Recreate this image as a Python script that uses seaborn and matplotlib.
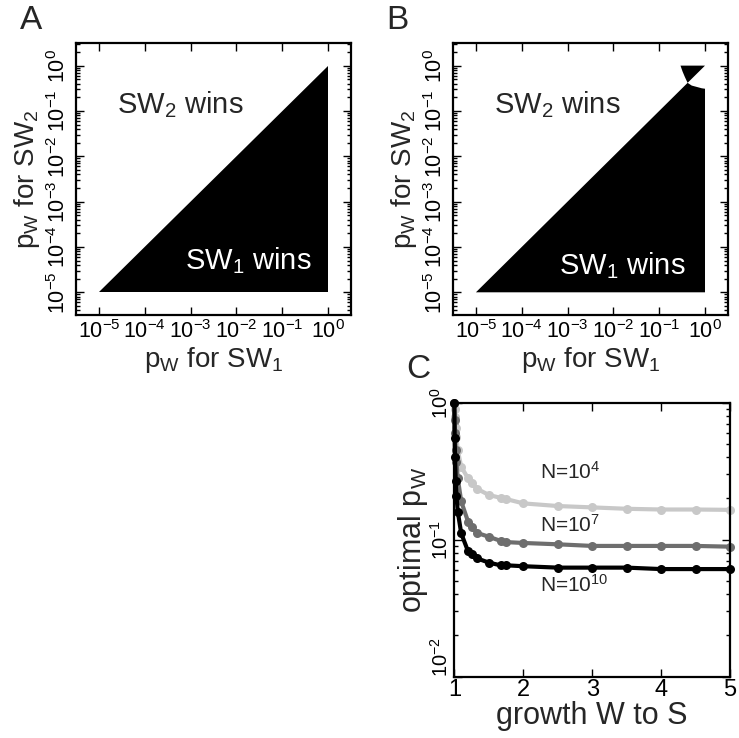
import numpy as np
import pandas as pd
import matplotlib
matplotlib.use("Agg")
import matplotlib.pyplot as plt
import seaborn as sns
from matplotlib.ticker import LogLocator, NullFormatter, FixedLocator

# ── data ──────────────────────────────────────────────────────
# panel A/B: region where SW1 wins (log10 coordinates of region boundaries)
tri_x = [-5, 0, 0]
tri_y = [-5, -5, 0]

# panel B: lower region with notch cut out near the top-right corner
regionB_x = [-5, 0, 0, -0.07, -0.18, -0.29, -0.38]
regionB_y = [-5, -5, -0.51, -0.50, -0.47, -0.44, -0.38]
# panel B: small bow-tie part above the diagonal
bowtie_x = [-0.38, 0, -0.535, -0.49, -0.44]
bowtie_y = [-0.38, 0, 0, -0.13, -0.25]

# panel C: optimal pW vs growth ratio W to S
growth = [1.0, 1.005, 1.01, 1.02, 1.03, 1.05, 1.1, 1.2, 1.25, 1.33,
          1.5, 1.67, 1.75, 2.0, 2.5, 3.0, 3.5, 4.0, 4.5, 5.0]
pw_n4 = [1.0, 0.9, 0.78, 0.65, 0.56, 0.45, 0.34, 0.28, 0.26, 0.235,
         0.212, 0.202, 0.198, 0.184, 0.176, 0.172, 0.168, 0.166, 0.166, 0.165]
pw_n7 = [1.0, 0.75, 0.6, 0.45, 0.37, 0.28, 0.19, 0.135, 0.124, 0.112,
         0.105, 0.098, 0.096, 0.0946, 0.0925, 0.090, 0.090, 0.090, 0.090, 0.0889]
pw_n10 = [1.0, 0.55, 0.4, 0.27, 0.21, 0.16, 0.111, 0.082, 0.078, 0.073,
          0.068, 0.065, 0.065, 0.064, 0.0625, 0.0625, 0.0625, 0.061, 0.061, 0.061]
pop_labels = ["N=10$^4$", "N=10$^7$", "N=10$^{10}$"]
pop_colors = ["#c8c8c8", "#6e6e6e", "#000000"]
label_pos = [(2.24, 0.31), (2.24, 0.128), (2.24, 0.047)]

decade_ticks = [1e-5, 1e-4, 1e-3, 1e-2, 1e-1, 1e0]

# ── style ─────────────────────────────────────────────────────
sns.set_style("ticks")
plt.rcParams["font.family"] = ["Liberation Sans", "DejaVu Sans"]
plt.rcParams["mathtext.fontset"] = "custom"
plt.rcParams["mathtext.rm"] = "Liberation Sans"
plt.rcParams["mathtext.it"] = "Liberation Sans:italic"
plt.rcParams["mathtext.default"] = "regular"
plt.rcParams["axes.unicode_minus"] = False
plt.rcParams["axes.linewidth"] = 1.6
plt.rcParams["axes.edgecolor"] = "black"

fig = plt.figure(figsize=(7.39, 7.38), dpi=100)
axA = fig.add_axes([0.1028, 0.5732, 0.372, 0.3686])
axB = fig.add_axes([0.6130, 0.5732, 0.372, 0.3686])
axC = fig.add_axes([0.6148, 0.0831, 0.3731, 0.3713])


def style_log_square(ax):
    ax.set_xscale("log")
    ax.set_yscale("log")
    ax.set_xlim(10**-5.5, 10**0.5)
    ax.set_ylim(10**-5.5, 10**0.5)
    ax.xaxis.set_major_locator(FixedLocator(decade_ticks))
    ax.yaxis.set_major_locator(FixedLocator(decade_ticks))
    ax.xaxis.set_minor_locator(LogLocator(base=10, subs=np.arange(2, 10)))
    ax.yaxis.set_minor_locator(LogLocator(base=10, subs=np.arange(2, 10)))
    ax.xaxis.set_minor_formatter(NullFormatter())
    ax.yaxis.set_minor_formatter(NullFormatter())
    ax.tick_params(which="both", direction="in", top=True, right=True,
                   colors="black", width=1.0)
    ax.tick_params(which="major", length=6, labelsize=15.5, pad=4)
    ax.tick_params(which="minor", length=3)
    for lab in ax.get_yticklabels():
        lab.set_rotation(90)
        lab.set_va("center")
    ax.set_xlabel("p$_{W}$ for SW$_1$", fontsize=20, labelpad=1)
    ax.set_ylabel("p$_{W}$ for SW$_2$", fontsize=20, labelpad=4)


# ── panel A ───────────────────────────────────────────────────
axA.fill(np.power(10.0, tri_x), np.power(10.0, tri_y), color="black", lw=0)
style_log_square(axA)
axA.text(10**-4.6, 10**-0.86, "SW$_2$ wins", fontsize=21, va="center", ha="left")
axA.text(10**-3.12, 10**-4.3, "SW$_1$ wins", fontsize=21, va="center", ha="left",
         color="white")

# ── panel B ───────────────────────────────────────────────────
axB.fill(np.power(10.0, regionB_x), np.power(10.0, regionB_y), color="black", lw=0)
axB.fill(np.power(10.0, bowtie_x), np.power(10.0, bowtie_y), color="black", lw=0)
style_log_square(axB)
axB.text(10**-4.6, 10**-0.86, "SW$_2$ wins", fontsize=21, va="center", ha="left")
axB.text(10**-3.18, 10**-4.4, "SW$_1$ wins", fontsize=21, va="center", ha="left",
         color="white")

# ── panel C ───────────────────────────────────────────────────
df = pd.DataFrame({
    "growth": growth * 3,
    "pw": pw_n4 + pw_n7 + pw_n10,
    "N": [pop_labels[0]] * len(growth) + [pop_labels[1]] * len(growth)
         + [pop_labels[2]] * len(growth),
})
sns.lineplot(data=df, x="growth", y="pw", hue="N", hue_order=pop_labels,
             palette=pop_colors, marker="o", markersize=6.5, markeredgewidth=0,
             linewidth=3, legend=False, ax=axC, clip_on=False)
axC.set_yscale("log")
axC.set_xlim(1, 5)
axC.set_ylim(1e-2, 1e0)
axC.set_xticks([1, 2, 3, 4, 5])
axC.yaxis.set_major_locator(FixedLocator([1e-2, 1e-1, 1e0]))
axC.yaxis.set_minor_locator(LogLocator(base=10, subs=np.arange(2, 10)))
axC.yaxis.set_minor_formatter(NullFormatter())
axC.tick_params(which="both", direction="in", top=True, right=True,
                colors="black", width=1.0)
axC.tick_params(which="major", length=6, labelsize=17, pad=2)
axC.tick_params(which="minor", length=3)
axC.tick_params(axis="y", which="major", labelsize=14.5, pad=2)
ylabs = axC.get_yticklabels()
for lab in ylabs:
    lab.set_rotation(90)
    lab.set_va("center")
ylabs[0].set_va("bottom")  # 10^-2 label sits above the bottom corner
axC.set_xlabel("growth W to S", fontsize=22, labelpad=0)
axC.set_ylabel("optimal p$_{W}$", fontsize=22, labelpad=0)
for (tx, ty), lab in zip(label_pos, pop_labels):
    axC.text(tx, ty, lab, fontsize=15, va="center", ha="left")

# ── panel letters ─────────────────────────────────────────────
fig.text(0.027, 0.972, "A", fontsize=24, va="center", ha="left")
fig.text(0.523, 0.972, "B", fontsize=24, va="center", ha="left")
fig.text(0.550, 0.500, "C", fontsize=24, va="center", ha="left")

fig.savefig("out.png", dpi=100)
